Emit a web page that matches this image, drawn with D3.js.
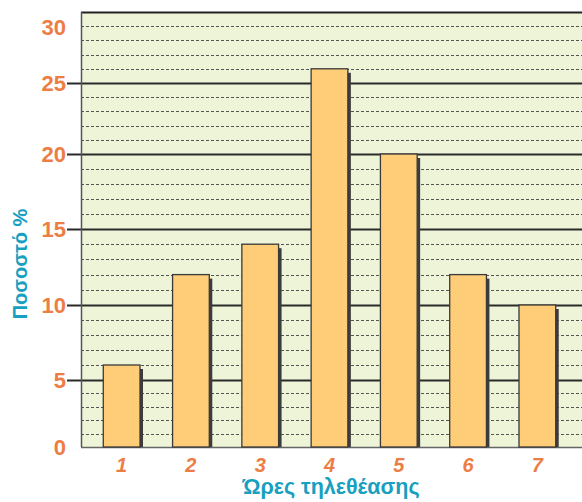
<!DOCTYPE html>
<html><head><meta charset="utf-8">
<script src="https://cdn.jsdelivr.net/npm/d3@7"></script>
<style>body{margin:0;background:#fff}svg{display:block}</style>
</head><body>
<svg id="c" width="582" height="502"></svg>
<script>
const categories = ["1","2","3","4","5","6","7"];
const values = [6, 12, 14, 26, 20, 12, 10];
const yTicks = [0, 5, 10, 15, 20, 25, 30];
const minorTicks = d3.range(1, 30).filter(v => v % 5 !== 0);
const xTitle = "Ώρες τηλεθέασης";
const yTitle = "Ποσοστό %";

const svg = d3.select("#c");
const pLeft = 81, pTop = 12, pRight = 590, pBottom = 447;
const orange = "#EC7E45", teal = "#17A0BF";
const font = "'Liberation Sans', Arial, sans-serif";

// the original artwork's gridlines are slightly unevenly spaced; a polylinear scale follows them
const y = d3.scaleLinear().domain(yTicks).range([pBottom, 380, 305, 229, 154, 83, pTop]);
const x = d3.scaleBand().domain(categories).range([87, 572]).paddingInner(0.47).paddingOuter(0.235);

// background
svg.append("rect").attr("x", pLeft).attr("y", pTop).attr("width", pRight - pLeft).attr("height", pBottom - pTop)
  .attr("fill", "#EEF4D8");

// minor dashed grid
svg.append("g").selectAll("line").data(minorTicks).join("line")
  .attr("x1", pLeft).attr("x2", pRight)
  .attr("y1", d => Math.round(y(d)) + 0.5).attr("y2", d => Math.round(y(d)) + 0.5)
  .attr("stroke", "#555").attr("stroke-width", 1).attr("stroke-dasharray", "3,2");

// major solid lines (extend left past the axis)
svg.append("g").selectAll("line").data(yTicks.filter(v => v > 0 && v < 30)).join("line")
  .attr("x1", 67).attr("x2", pRight)
  .attr("y1", d => Math.round(y(d)) + 0.5).attr("y2", d => Math.round(y(d)) + 0.5)
  .attr("stroke", "#2a2a2a").attr("stroke-width", 2);

// frame
svg.append("line").attr("x1", pLeft).attr("x2", pRight).attr("y1", pTop + 0.5).attr("y2", pTop + 0.5)
  .attr("stroke", "#222").attr("stroke-width", 2);
svg.append("line").attr("x1", pLeft + 0.5).attr("x2", pLeft + 0.5).attr("y1", pTop).attr("y2", pBottom)
  .attr("stroke", "#555").attr("stroke-width", 1.5);
svg.append("line").attr("x1", pLeft).attr("x2", pRight).attr("y1", pBottom + 0.5).attr("y2", pBottom + 0.5)
  .attr("stroke", "#666").attr("stroke-width", 1.5);

// bar shadows
svg.append("g").selectAll("rect").data(values).join("rect")
  .attr("x", (d, i) => x(categories[i]) + 3)
  .attr("y", d => y(d) + 4)
  .attr("width", x.bandwidth())
  .attr("height", d => pBottom - y(d) - 4)
  .attr("fill", "#3c3c3c");

// bars
svg.append("g").selectAll("rect").data(values).join("rect")
  .attr("x", (d, i) => x(categories[i]))
  .attr("y", d => y(d))
  .attr("width", x.bandwidth())
  .attr("height", d => pBottom - y(d))
  .attr("fill", "#FFCC78").attr("stroke", "#3a3a3a").attr("stroke-width", 1.3);

// y tick labels
svg.append("g").selectAll("text").data(yTicks).join("text")
  .attr("x", 66).attr("y", d => d === 30 ? y(d) + 15 : y(d))
  .attr("dy", "0.36em").attr("text-anchor", "end")
  .attr("font-family", font).attr("font-weight", "bold").attr("font-size", 22)
  .attr("fill", orange).text(d => d);

// x tick labels
svg.append("g").selectAll("text").data(categories).join("text")
  .attr("x", d => x(d) + x.bandwidth() / 2).attr("y", 472)
  .attr("text-anchor", "middle")
  .attr("font-family", font).attr("font-weight", "bold").attr("font-style", "italic").attr("font-size", 20)
  .attr("fill", orange).text(d => d);

// axis titles
svg.append("text").attr("x", 331).attr("y", 494).attr("text-anchor", "middle")
  .attr("font-family", font).attr("font-weight", "bold").attr("font-size", 21.5)
  .attr("fill", teal).text(xTitle);
svg.append("text").attr("transform", "translate(27,264) rotate(-90)").attr("text-anchor", "middle")
  .attr("font-family", font).attr("font-weight", "bold").attr("font-size", 20)
  .attr("fill", teal).text(yTitle);
</script>
</body></html>
